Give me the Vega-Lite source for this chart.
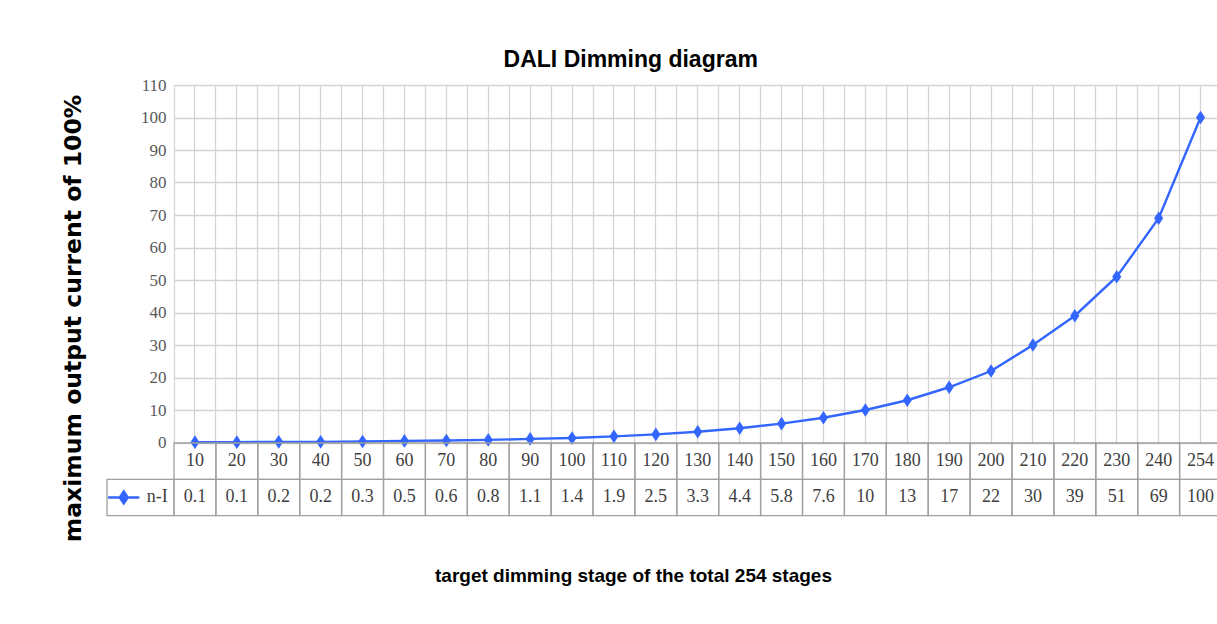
{
  "$schema": "https://vega.github.io/schema/vega-lite/v6.json",
  "autosize": {"type": "pad"},
  "padding": {"left": 60, "top": 49, "right": 0, "bottom": 0},
  "background": "white",
  "data": {
    "values": [
      {"stage": 10, "value": 0.1},
      {"stage": 20, "value": 0.1},
      {"stage": 30, "value": 0.2},
      {"stage": 40, "value": 0.2},
      {"stage": 50, "value": 0.3},
      {"stage": 60, "value": 0.5},
      {"stage": 70, "value": 0.6},
      {"stage": 80, "value": 0.8},
      {"stage": 90, "value": 1.1},
      {"stage": 100, "value": 1.4},
      {"stage": 110, "value": 1.9},
      {"stage": 120, "value": 2.5},
      {"stage": 130, "value": 3.3},
      {"stage": 140, "value": 4.4},
      {"stage": 150, "value": 5.8},
      {"stage": 160, "value": 7.6},
      {"stage": 170, "value": 10},
      {"stage": 180, "value": 13},
      {"stage": 190, "value": 17},
      {"stage": 200, "value": 22},
      {"stage": 210, "value": 30},
      {"stage": 220, "value": 39},
      {"stage": 230, "value": 51},
      {"stage": 240, "value": 69},
      {"stage": 254, "value": 100}
    ]
  },
  "columns": 2,
  "spacing": 0,
  "bounds": "flush",
  "resolve": {"scale": {"x": "independent", "y": "independent"}},
  "concat": [
    {
      "width": 67,
      "height": 357.5,
      "data": {"values": []},
      "mark": {"type": "text"},
      "encoding": {}
    },
    {
      "width": 1047.5,
      "height": 357.5,
      "title": {
        "text": "DALI Dimming diagram",
        "font": "Liberation Sans",
        "fontWeight": "bold",
        "fontSize": 23,
        "color": "#000000",
        "anchor": "middle",
        "frame": "group",
        "dx": -67,
        "offset": 4
      },
      "encoding": {
        "y": {
          "field": "value",
          "type": "quantitative",
          "scale": {"domain": [0, 110], "nice": false},
          "axis": {
            "values": [0, 10, 20, 30, 40, 50, 60, 70, 80, 90, 100, 110],
            "labelOverlap": false,
            "grid": true,
            "gridColor": "#d4d4d4",
            "gridWidth": 1.3,
            "domain": false,
            "ticks": false,
            "labelFont": "Liberation Serif",
            "labelFontSize": 17,
            "labelColor": "#595959",
            "labelPadding": 8,
            "title": "maximum output current of 100%",
            "titleFont": "DejaVu Sans",
            "titleFontWeight": "bold",
            "titleFontSize": 23.5,
            "titleColor": "#000000",
            "titleAngle": 270,
            "titleAlign": "center",
            "titleBaseline": "alphabetic",
            "titleX": -94,
            "titleY": 233
          }
        }
      },
      "layer": [
        {
          "mark": {"type": "line", "color": "#3366ff", "strokeWidth": 2.4},
          "encoding": {
            "x": {
              "field": "stage",
              "type": "ordinal",
              "bandPosition": 0.5,
              "scale": {"type": "band", "paddingInner": 0, "paddingOuter": 0},
              "axis": {
                "bandPosition": 0,
                "labels": false,
                "ticks": false,
                "domain": false,
                "title": null,
                "grid": true,
                "gridColor": "#d4d4d4",
                "gridWidth": 1.3
              }
            }
          }
        },
        {
          "mark": {
            "type": "point",
            "shape": "M0,-1L0.67,0L0,1L-0.67,0Z",
            "filled": true,
            "color": "#3366ff",
            "size": 185,
            "opacity": 1
          },
          "encoding": {
            "x": {
              "field": "stage",
              "type": "ordinal",
              "bandPosition": 0.5,
              "scale": {"type": "band", "paddingInner": 0, "paddingOuter": 0},
              "axis": {
                "bandPosition": 0.5,
                "labels": false,
                "ticks": false,
                "domain": false,
                "title": null,
                "grid": true,
                "gridColor": "#d4d4d4",
                "gridWidth": 1.3
              }
            }
          }
        }
      ],
      "resolve": {"axis": {"x": "independent"}}
    },
    {
      "width": 67,
      "height": 72.6,
      "data": {"values": [{"series": "n-I"}]},
      "layer": [
        {
          "mark": {"type": "rect", "fill": "transparent", "stroke": "#a0a0a0", "strokeWidth": 1.3},
          "encoding": {
            "y": {
              "datum": "value",
              "type": "nominal",
              "scale": {"type": "band", "domain": ["stage", "value"], "paddingInner": 0, "paddingOuter": 0},
              "axis": null
            }
          }
        },
        {
          "mark": {
            "type": "point",
            "shape": "M-2.6,0L2.6,0M0,-1L0.67,0L0,1L-0.67,0Z",
            "filled": true,
            "fill": "#3366ff",
            "stroke": "#3366ff",
            "strokeWidth": 2.4,
            "size": 144,
            "opacity": 1
          },
          "encoding": {
            "x": {
              "datum": "symbol",
              "type": "nominal",
              "scale": {"type": "band", "domain": ["symbol", "label"], "paddingInner": 0, "paddingOuter": 0},
              "axis": null
            },
            "y": {"datum": "value", "type": "nominal", "axis": null}
          }
        },
        {
          "mark": {"type": "text", "font": "Liberation Serif", "fontSize": 18, "color": "#404040"},
          "encoding": {
            "x": {"datum": "label", "type": "nominal", "axis": null},
            "y": {"datum": "value", "type": "nominal", "axis": null},
            "text": {"field": "series"}
          }
        }
      ]
    },
    {
      "width": 1047.5,
      "height": 72.6,
      "layer": [
        {
          "mark": {"type": "rect", "fill": "transparent", "stroke": "#a0a0a0", "strokeWidth": 1.3},
          "encoding": {
            "x": {
              "field": "stage",
              "type": "ordinal",
              "scale": {"type": "band", "paddingInner": 0, "paddingOuter": 0},
              "axis": {
                "labels": false,
                "ticks": false,
                "domain": false,
                "grid": false,
                "title": "target dimming stage of the total 254 stages",
                "titleFont": "Liberation Sans",
                "titleFontWeight": "bold",
                "titleFontSize": 19,
                "titleColor": "#000000",
                "titleAlign": "center",
                "titleBaseline": "alphabetic",
                "titleX": 459,
                "titleY": 66
              }
            },
            "y": {
              "datum": "stage",
              "type": "nominal",
              "scale": {"type": "band", "domain": ["stage", "value"], "paddingInner": 0, "paddingOuter": 0},
              "axis": null
            }
          }
        },
        {
          "mark": {"type": "rect", "fill": "transparent", "stroke": "#a0a0a0", "strokeWidth": 1.3},
          "encoding": {
            "x": {"field": "stage", "type": "ordinal"},
            "y": {"datum": "value", "type": "nominal", "axis": null}
          }
        },
        {
          "mark": {"type": "text", "font": "Liberation Serif", "fontSize": 18, "color": "#404040"},
          "encoding": {
            "x": {"field": "stage", "type": "ordinal"},
            "y": {"datum": "stage", "type": "nominal", "axis": null},
            "text": {"field": "stage", "type": "nominal"}
          }
        },
        {
          "mark": {"type": "text", "font": "Liberation Serif", "fontSize": 18, "color": "#404040"},
          "encoding": {
            "x": {"field": "stage", "type": "ordinal"},
            "y": {"datum": "value", "type": "nominal", "axis": null},
            "text": {"field": "value", "type": "nominal"}
          }
        }
      ]
    }
  ],
  "config": {
    "view": {"stroke": null}
  }
}
